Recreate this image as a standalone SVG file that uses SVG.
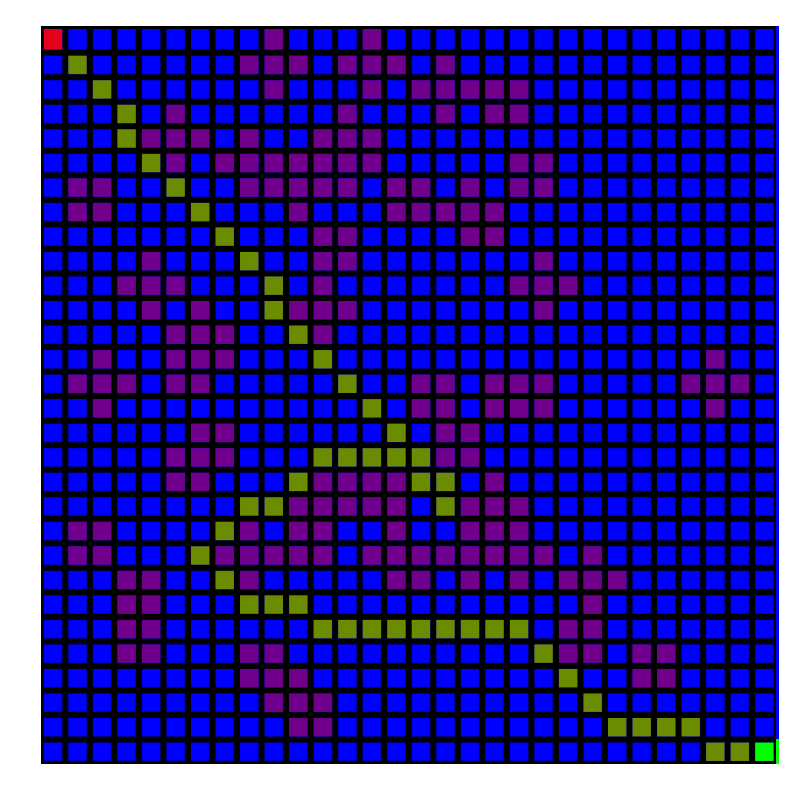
<svg xmlns="http://www.w3.org/2000/svg" xmlns:xlink="http://www.w3.org/1999/xlink" width="798" height="785" viewBox="0 0 798 785">
<style>
.b{fill:#0000ff}.p{fill:#70008c}.o{fill:#6b8c00}.r{fill:#e6001e}.g{fill:#00ff00}
</style>
<defs>
<rect id="c" width="18.4" height="18.4"/>
<rect id="c0" width="18.4" height="20.6"/>
<pattern id="bp" patternUnits="userSpaceOnUse" x="43.8" y="31.17" width="24.53" height="24.53"><rect width="18.4" height="18.4" fill="#0000ff"/></pattern>
<pattern id="bp0" patternUnits="userSpaceOnUse" x="43.8" y="29" width="24.53" height="24.53"><rect width="18.4" height="18.4" fill="#0000ff"/></pattern>
</defs>
<rect width="798" height="785" fill="#ffffff"/>
<g id="board">
<rect x="41" y="26" width="735" height="738" fill="#000000"/>
<rect x="41" y="26" width="735" height="738" fill="url(#bp)"/>
<rect x="41" y="29" width="735" height="4" fill="url(#bp0)"/>
<rect class="b" x="776" y="26" width="3" height="713.5"/>
<rect class="g" x="776" y="739.5" width="3" height="24.5"/>
</g>
<g id="cells">
<use href="#c0" class="r" x="43.8" y="29"/><use href="#c0" class="p" x="264.57" y="29"/><use href="#c0" class="p" x="362.69" y="29"/>
<g transform="translate(0,55.7)"><use href="#c" class="o" x="68.33"/><use href="#c" class="p" x="240.04"/><use href="#c" class="p" x="264.57"/><use href="#c" class="p" x="289.1"/><use href="#c" class="p" x="338.16"/><use href="#c" class="p" x="362.69"/><use href="#c" class="p" x="387.22"/><use href="#c" class="p" x="436.28"/></g>
<g transform="translate(0,80.23)"><use href="#c" class="o" x="92.86"/><use href="#c" class="p" x="264.57"/><use href="#c" class="p" x="362.69"/><use href="#c" class="p" x="411.75"/><use href="#c" class="p" x="436.28"/><use href="#c" class="p" x="460.81"/><use href="#c" class="p" x="485.34"/><use href="#c" class="p" x="509.87"/></g>
<g transform="translate(0,104.76)"><use href="#c" class="o" x="117.39"/><use href="#c" class="p" x="166.45"/><use href="#c" class="p" x="338.16"/><use href="#c" class="p" x="436.28"/><use href="#c" class="p" x="485.34"/><use href="#c" class="p" x="509.87"/></g>
<g transform="translate(0,129.29)"><use href="#c" class="o" x="117.39"/><use href="#c" class="p" x="141.92"/><use href="#c" class="p" x="166.45"/><use href="#c" class="p" x="190.98"/><use href="#c" class="p" x="240.04"/><use href="#c" class="p" x="313.63"/><use href="#c" class="p" x="338.16"/><use href="#c" class="p" x="362.69"/></g>
<g transform="translate(0,153.82)"><use href="#c" class="o" x="141.92"/><use href="#c" class="p" x="166.45"/><use href="#c" class="p" x="215.51"/><use href="#c" class="p" x="240.04"/><use href="#c" class="p" x="264.57"/><use href="#c" class="p" x="289.1"/><use href="#c" class="p" x="313.63"/><use href="#c" class="p" x="338.16"/><use href="#c" class="p" x="362.69"/><use href="#c" class="p" x="509.87"/><use href="#c" class="p" x="534.4"/></g>
<g transform="translate(0,178.35)"><use href="#c" class="o" x="166.45"/><use href="#c" class="p" x="68.33"/><use href="#c" class="p" x="92.86"/><use href="#c" class="p" x="240.04"/><use href="#c" class="p" x="264.57"/><use href="#c" class="p" x="289.1"/><use href="#c" class="p" x="313.63"/><use href="#c" class="p" x="338.16"/><use href="#c" class="p" x="387.22"/><use href="#c" class="p" x="411.75"/><use href="#c" class="p" x="460.81"/><use href="#c" class="p" x="509.87"/><use href="#c" class="p" x="534.4"/></g>
<g transform="translate(0,202.88)"><use href="#c" class="o" x="190.98"/><use href="#c" class="p" x="68.33"/><use href="#c" class="p" x="92.86"/><use href="#c" class="p" x="289.1"/><use href="#c" class="p" x="387.22"/><use href="#c" class="p" x="411.75"/><use href="#c" class="p" x="436.28"/><use href="#c" class="p" x="460.81"/><use href="#c" class="p" x="485.34"/></g>
<g transform="translate(0,227.41)"><use href="#c" class="o" x="215.51"/><use href="#c" class="p" x="313.63"/><use href="#c" class="p" x="338.16"/><use href="#c" class="p" x="460.81"/><use href="#c" class="p" x="485.34"/></g>
<g transform="translate(0,251.94)"><use href="#c" class="o" x="240.04"/><use href="#c" class="p" x="141.92"/><use href="#c" class="p" x="313.63"/><use href="#c" class="p" x="338.16"/><use href="#c" class="p" x="534.4"/></g>
<g transform="translate(0,276.47)"><use href="#c" class="o" x="264.57"/><use href="#c" class="p" x="117.39"/><use href="#c" class="p" x="141.92"/><use href="#c" class="p" x="166.45"/><use href="#c" class="p" x="313.63"/><use href="#c" class="p" x="509.87"/><use href="#c" class="p" x="534.4"/><use href="#c" class="p" x="558.93"/></g>
<g transform="translate(0,301)"><use href="#c" class="o" x="264.57"/><use href="#c" class="p" x="141.92"/><use href="#c" class="p" x="190.98"/><use href="#c" class="p" x="289.1"/><use href="#c" class="p" x="313.63"/><use href="#c" class="p" x="338.16"/><use href="#c" class="p" x="534.4"/></g>
<g transform="translate(0,325.53)"><use href="#c" class="o" x="289.1"/><use href="#c" class="p" x="166.45"/><use href="#c" class="p" x="190.98"/><use href="#c" class="p" x="215.51"/><use href="#c" class="p" x="313.63"/></g>
<g transform="translate(0,350.06)"><use href="#c" class="o" x="313.63"/><use href="#c" class="p" x="92.86"/><use href="#c" class="p" x="166.45"/><use href="#c" class="p" x="190.98"/><use href="#c" class="p" x="215.51"/><use href="#c" class="p" x="706.11"/></g>
<g transform="translate(0,374.59)"><use href="#c" class="o" x="338.16"/><use href="#c" class="p" x="68.33"/><use href="#c" class="p" x="92.86"/><use href="#c" class="p" x="117.39"/><use href="#c" class="p" x="166.45"/><use href="#c" class="p" x="190.98"/><use href="#c" class="p" x="411.75"/><use href="#c" class="p" x="436.28"/><use href="#c" class="p" x="485.34"/><use href="#c" class="p" x="509.87"/><use href="#c" class="p" x="534.4"/><use href="#c" class="p" x="681.58"/><use href="#c" class="p" x="706.11"/><use href="#c" class="p" x="730.64"/></g>
<g transform="translate(0,399.12)"><use href="#c" class="o" x="362.69"/><use href="#c" class="p" x="92.86"/><use href="#c" class="p" x="411.75"/><use href="#c" class="p" x="436.28"/><use href="#c" class="p" x="485.34"/><use href="#c" class="p" x="509.87"/><use href="#c" class="p" x="534.4"/><use href="#c" class="p" x="706.11"/></g>
<g transform="translate(0,423.65)"><use href="#c" class="o" x="387.22"/><use href="#c" class="p" x="190.98"/><use href="#c" class="p" x="215.51"/><use href="#c" class="p" x="436.28"/><use href="#c" class="p" x="460.81"/></g>
<g transform="translate(0,448.18)"><use href="#c" class="o" x="313.63"/><use href="#c" class="o" x="338.16"/><use href="#c" class="o" x="362.69"/><use href="#c" class="o" x="387.22"/><use href="#c" class="o" x="411.75"/><use href="#c" class="p" x="166.45"/><use href="#c" class="p" x="190.98"/><use href="#c" class="p" x="215.51"/><use href="#c" class="p" x="436.28"/><use href="#c" class="p" x="460.81"/></g>
<g transform="translate(0,472.71)"><use href="#c" class="o" x="289.1"/><use href="#c" class="o" x="411.75"/><use href="#c" class="o" x="436.28"/><use href="#c" class="p" x="166.45"/><use href="#c" class="p" x="190.98"/><use href="#c" class="p" x="313.63"/><use href="#c" class="p" x="338.16"/><use href="#c" class="p" x="362.69"/><use href="#c" class="p" x="387.22"/><use href="#c" class="p" x="485.34"/></g>
<g transform="translate(0,497.24)"><use href="#c" class="o" x="240.04"/><use href="#c" class="o" x="264.57"/><use href="#c" class="o" x="436.28"/><use href="#c" class="p" x="289.1"/><use href="#c" class="p" x="313.63"/><use href="#c" class="p" x="338.16"/><use href="#c" class="p" x="362.69"/><use href="#c" class="p" x="387.22"/><use href="#c" class="p" x="460.81"/><use href="#c" class="p" x="485.34"/><use href="#c" class="p" x="509.87"/></g>
<g transform="translate(0,521.77)"><use href="#c" class="o" x="215.51"/><use href="#c" class="p" x="68.33"/><use href="#c" class="p" x="92.86"/><use href="#c" class="p" x="240.04"/><use href="#c" class="p" x="289.1"/><use href="#c" class="p" x="313.63"/><use href="#c" class="p" x="387.22"/><use href="#c" class="p" x="460.81"/><use href="#c" class="p" x="485.34"/><use href="#c" class="p" x="509.87"/></g>
<g transform="translate(0,546.3)"><use href="#c" class="o" x="190.98"/><use href="#c" class="p" x="68.33"/><use href="#c" class="p" x="92.86"/><use href="#c" class="p" x="215.51"/><use href="#c" class="p" x="240.04"/><use href="#c" class="p" x="264.57"/><use href="#c" class="p" x="289.1"/><use href="#c" class="p" x="313.63"/><use href="#c" class="p" x="362.69"/><use href="#c" class="p" x="387.22"/><use href="#c" class="p" x="411.75"/><use href="#c" class="p" x="436.28"/><use href="#c" class="p" x="460.81"/><use href="#c" class="p" x="485.34"/><use href="#c" class="p" x="509.87"/><use href="#c" class="p" x="534.4"/><use href="#c" class="p" x="583.46"/></g>
<g transform="translate(0,570.83)"><use href="#c" class="o" x="215.51"/><use href="#c" class="p" x="117.39"/><use href="#c" class="p" x="141.92"/><use href="#c" class="p" x="240.04"/><use href="#c" class="p" x="387.22"/><use href="#c" class="p" x="411.75"/><use href="#c" class="p" x="460.81"/><use href="#c" class="p" x="509.87"/><use href="#c" class="p" x="558.93"/><use href="#c" class="p" x="583.46"/><use href="#c" class="p" x="607.99"/></g>
<g transform="translate(0,595.36)"><use href="#c" class="o" x="240.04"/><use href="#c" class="o" x="264.57"/><use href="#c" class="o" x="289.1"/><use href="#c" class="p" x="117.39"/><use href="#c" class="p" x="141.92"/><use href="#c" class="p" x="583.46"/></g>
<g transform="translate(0,619.89)"><use href="#c" class="o" x="313.63"/><use href="#c" class="o" x="338.16"/><use href="#c" class="o" x="362.69"/><use href="#c" class="o" x="387.22"/><use href="#c" class="o" x="411.75"/><use href="#c" class="o" x="436.28"/><use href="#c" class="o" x="460.81"/><use href="#c" class="o" x="485.34"/><use href="#c" class="o" x="509.87"/><use href="#c" class="p" x="117.39"/><use href="#c" class="p" x="141.92"/><use href="#c" class="p" x="558.93"/><use href="#c" class="p" x="583.46"/></g>
<g transform="translate(0,644.42)"><use href="#c" class="o" x="534.4"/><use href="#c" class="p" x="117.39"/><use href="#c" class="p" x="141.92"/><use href="#c" class="p" x="240.04"/><use href="#c" class="p" x="264.57"/><use href="#c" class="p" x="558.93"/><use href="#c" class="p" x="583.46"/><use href="#c" class="p" x="632.52"/><use href="#c" class="p" x="657.05"/></g>
<g transform="translate(0,668.95)"><use href="#c" class="o" x="558.93"/><use href="#c" class="p" x="240.04"/><use href="#c" class="p" x="264.57"/><use href="#c" class="p" x="289.1"/><use href="#c" class="p" x="632.52"/><use href="#c" class="p" x="657.05"/></g>
<g transform="translate(0,693.48)"><use href="#c" class="o" x="583.46"/><use href="#c" class="p" x="264.57"/><use href="#c" class="p" x="289.1"/><use href="#c" class="p" x="313.63"/></g>
<g transform="translate(0,718.01)"><use href="#c" class="o" x="607.99"/><use href="#c" class="o" x="632.52"/><use href="#c" class="o" x="657.05"/><use href="#c" class="o" x="681.58"/><use href="#c" class="p" x="289.1"/><use href="#c" class="p" x="313.63"/></g>
<g transform="translate(0,742.54)"><use href="#c" class="o" x="706.11"/><use href="#c" class="o" x="730.64"/><use href="#c" class="g" x="755.17"/></g>
</g>
</svg>
